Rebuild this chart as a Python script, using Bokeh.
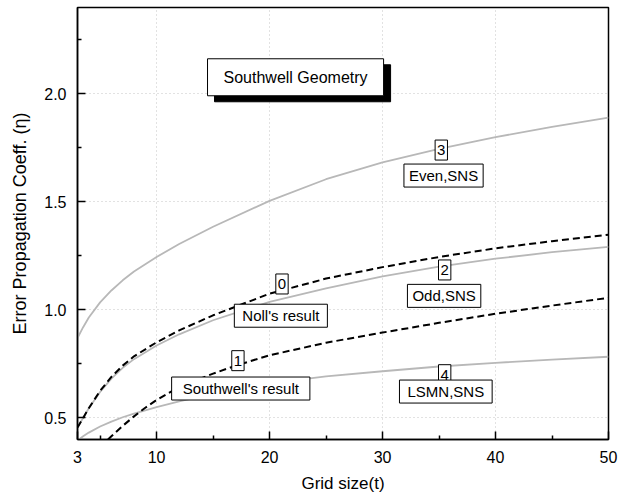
from bokeh.plotting import figure
from bokeh.models import Range1d, FixedTicker, PrintfTickFormatter, Label
from bokeh.embed import file_html
from bokeh.resources import INLINE

# ---- data ----
grid_t = [3, 3.5, 4, 5, 6, 7, 8, 10, 12, 15, 20, 25, 30, 35, 40, 45, 50]
even_sns = [0.87, 0.92, 0.965, 1.035, 1.09, 1.137, 1.178, 1.245, 1.305, 1.385, 1.505, 1.605, 1.683, 1.745, 1.80, 1.847, 1.89]
noll_result = [0.455, 0.50, 0.545, 0.625, 0.69, 0.742, 0.785, 0.85, 0.905, 0.975, 1.075, 1.145, 1.198, 1.245, 1.285, 1.318, 1.348]
odd_sns = [0.455, 0.50, 0.545, 0.62, 0.682, 0.732, 0.772, 0.835, 0.887, 0.952, 1.037, 1.10, 1.155, 1.20, 1.237, 1.267, 1.292]
lsmn_sns = [0.395, 0.415, 0.432, 0.46, 0.483, 0.503, 0.52, 0.55, 0.577, 0.612, 0.66, 0.692, 0.716, 0.738, 0.755, 0.77, 0.783]
southwell_t = [5.7, 6, 7, 8, 9, 10, 12, 15, 17, 20, 25, 30, 35, 40, 45, 50]
southwell_result = [0.40, 0.415, 0.463, 0.507, 0.547, 0.583, 0.643, 0.705, 0.742, 0.79, 0.848, 0.895, 0.94, 0.982, 1.02, 1.056]

x_ticks = [3, 10, 20, 30, 40, 50]
x_minor = [5, 15, 25, 35, 45]
y_ticks = [0.5, 1.0, 1.5, 2.0]
y_minor = [0.75, 1.25, 1.75, 2.25]

FONT = "Liberation Sans"
GRAY = "#b8b8b8"

p = figure(width=627, height=495, output_backend="svg", toolbar_location=None,
           x_range=Range1d(3, 50), y_range=Range1d(0.4, 2.4),
           min_border_left=77, min_border_right=19, min_border_top=7, min_border_bottom=55)
p.background_fill_color = "white"
p.border_fill_color = "white"
p.outline_line_color = "black"
p.outline_line_width = 1.5

# curves
p.line(grid_t, even_sns, line_color=GRAY, line_width=1.8)
p.line(grid_t, odd_sns, line_color=GRAY, line_width=1.8)
p.line(grid_t, lsmn_sns, line_color=GRAY, line_width=1.8)
p.line(grid_t, noll_result, line_color="black", line_width=2, line_dash="7 4")
p.line(southwell_t, southwell_result, line_color="black", line_width=2, line_dash="7 4")

# axes
p.xaxis.ticker = FixedTicker(ticks=x_ticks, minor_ticks=x_minor)
p.yaxis.ticker = FixedTicker(ticks=y_ticks, minor_ticks=y_minor)
p.yaxis.formatter = PrintfTickFormatter(format="%.1f")
for ax in (p.xaxis[0], p.yaxis[0]):
    ax.axis_line_color = "black"
    ax.axis_line_width = 1.5
    ax.major_tick_in = 8
    ax.major_tick_out = 0
    ax.minor_tick_in = 4
    ax.minor_tick_out = 0
    ax.major_tick_line_width = 1.5
    ax.minor_tick_line_width = 1.5
    ax.major_tick_line_color = "black"
    ax.minor_tick_line_color = "black"
    ax.major_label_text_font = FONT
    ax.major_label_text_font_size = "16px"
    ax.major_label_text_color = "black"
    ax.axis_label_text_font = FONT
    ax.axis_label_text_font_style = "normal"
    ax.axis_label_text_color = "black"
p.xaxis.axis_label_text_font_size = "17px"
p.yaxis.axis_label_text_font_size = "18px"
p.xaxis.axis_label = "Grid size(t)"
p.yaxis.axis_label = "Error Propagation Coeff. (\u03b7)"
p.xaxis.major_label_standoff = 11
p.xaxis.axis_label_standoff = 8
p.yaxis.major_label_standoff = 11
p.yaxis.axis_label_standoff = 11

p.xgrid.grid_line_color = "#c4c4c4"
p.ygrid.grid_line_color = "#c4c4c4"
p.xgrid.grid_line_dash = "1 3"
p.ygrid.grid_line_dash = "1 3"
p.xgrid.grid_line_width = 1
p.ygrid.grid_line_width = 1

def box_label(x, y, text, size="15px", pad=(8, 4)):
    lab = Label(x=x, y=y, text=text, text_align="center", text_baseline="middle",
                text_font=FONT, text_font_size=size, text_color="black",
                background_fill_color="white", border_line_color="black",
                border_line_width=1, padding=pad)
    p.add_layout(lab)

# title box with shadow
shadow = Label(x=22.3, y=2.077, text="Southwell Geometry", text_align="center",
               text_baseline="middle", text_font=FONT, text_font_size="16px",
               text_color="black", background_fill_color="black",
               border_line_color="black", padding=(16, 10), x_offset=7, y_offset=-6)
p.add_layout(shadow)
box_label(22.3, 2.077, "Southwell Geometry", size="16px", pad=(16, 10))

box_label(35.2, 1.74, "3", pad=(2, 5))
box_label(35.4, 1.622, "Even,SNS", pad=(5, 3))
box_label(35.5, 1.185, "2", pad=(2, 5))
box_label(35.45, 1.065, "Odd,SNS", pad=(5, 3))
box_label(21.1, 1.12, "0", pad=(2, 5))
box_label(21.0, 0.973, "Noll's result", pad=(8, 3))
box_label(17.2, 0.765, "1", pad=(2, 5))
box_label(17.45, 0.636, "Southwell's result", pad=(11, 3))
box_label(35.5, 0.70, "4", pad=(2, 5))
box_label(35.6, 0.622, "LSMN,SNS", pad=(8, 3))

open("out.html", "w").write(file_html(p, INLINE))
